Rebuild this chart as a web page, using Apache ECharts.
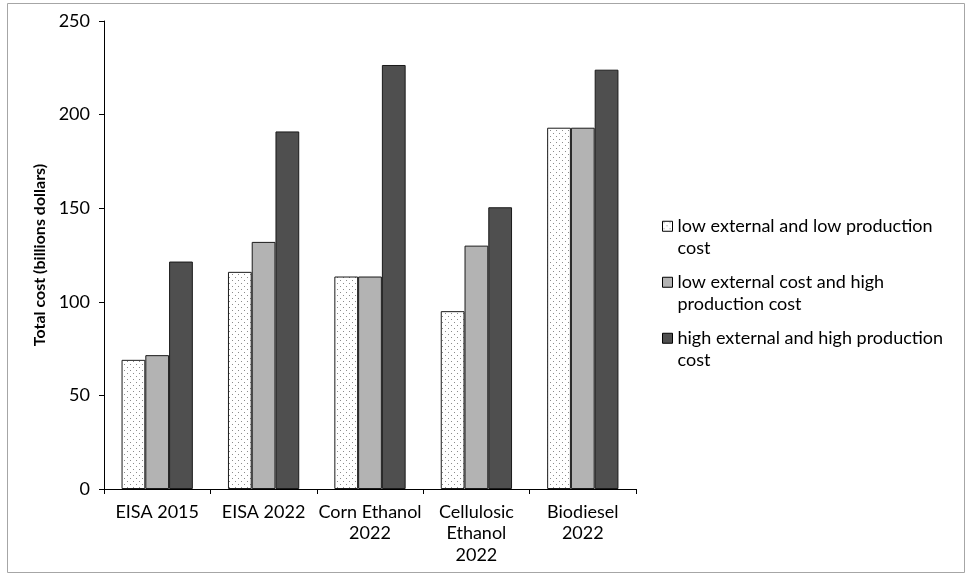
<!DOCTYPE html>
<html>
<head>
<meta charset="utf-8">
<script src="https://cdn.jsdelivr.net/npm/echarts@6/dist/echarts.min.js"></script>
<style>
html,body{margin:0;padding:0;background:#fff;}
#chart{width:970px;height:577px;}
</style>
</head>
<body>
<div id="chart"></div>
<script>
// ---- data ----
const categories = ['EISA 2015', 'EISA 2022', 'Corn Ethanol\n2022', 'Cellulosic\nEthanol\n2022', 'Biodiesel\n2022'];
const seriesNames = [
  'low external and low production\ncost',
  'low external cost and high\nproduction cost',
  'high external and high production\ncost'
];
const lowLow = [69, 116, 113.5, 95, 193];
const lowHigh = [71.5, 132, 113.5, 130, 193];
const highHigh = [121.5, 191, 226.5, 150.5, 224];
const yTicks = [0, 50, 100, 150, 200, 250];

// dotted pattern
function makePattern() {
  const c = document.createElement('canvas');
  c.width = 6; c.height = 6;
  const ctx = c.getContext('2d');
  ctx.fillStyle = '#ffffff';
  ctx.fillRect(0, 0, 6, 6);
  ctx.fillStyle = '#8c8c8c';
  ctx.fillRect(1, 1, 1, 1);
  ctx.fillRect(4, 4, 1, 1);
  return c;
}
const dotted = { image: makePattern(), repeat: 'repeat' };

const FONT = 'Lato';
const chart = echarts.init(document.getElementById('chart'), null, { renderer: 'canvas' });

function legendFor(idx, top) {
  return {
    show: true,
    left: 662,
    top: top,
    padding: 0,
    orient: 'vertical',
    itemWidth: 10,
    itemHeight: 10,
    itemGap: 0,
    icon: 'rect',
    selectedMode: false,
    data: [seriesNames[idx]],
    formatter: function (n) { return '\n' + n; },
    textStyle: { fontFamily: FONT, fontSize: 18, color: '#000', lineHeight: 21.5 },
    itemStyle: { borderColor: '#000', borderWidth: 1 }
  };
}

const barStyle = (color) => ({ color: color, borderColor: '#1a1a1a', borderWidth: 1 });

chart.setOption({
  animation: false,
  backgroundColor: '#fff',
  graphic: [{
    type: 'rect',
    shape: { x: 7.5, y: 3.5, width: 957, height: 569 },
    style: { fill: 'none', stroke: '#a6a6a6', lineWidth: 1 },
    silent: true
  }],
  legend: [legendFor(0, 194), legendFor(1, 250), legendFor(2, 306)],
  grid: { left: 104, right: 334, top: 21, bottom: 88, containLabel: false },
  xAxis: {
    type: 'category',
    data: categories,
    axisLine: { lineStyle: { color: '#000', width: 1 } },
    axisTick: { show: true, length: 5, inside: false, alignWithLabel: false, lineStyle: { color: '#000' } },
    axisLabel: { interval: 0, margin: 12, fontFamily: FONT, fontSize: 18, color: '#000', lineHeight: 21.5, align: 'center' }
  },
  yAxis: {
    type: 'value',
    min: yTicks[0],
    max: yTicks[yTicks.length - 1],
    interval: yTicks[1] - yTicks[0],
    name: 'Total cost (billions dollars)',
    nameLocation: 'middle',
    nameGap: 47,
    nameTextStyle: { fontFamily: FONT, fontSize: 16, fontWeight: 'bold', color: '#000' },
    axisLine: { show: true, lineStyle: { color: '#000', width: 1 } },
    axisTick: { show: true, length: 5, lineStyle: { color: '#000' } },
    splitLine: { show: false },
    axisLabel: { margin: 14, fontFamily: FONT, fontSize: 18, color: '#000' }
  },
  series: [
    { name: seriesNames[0], type: 'bar', data: lowLow, barGap: '0%', barCategoryGap: '33%', itemStyle: barStyle(dotted) },
    { name: seriesNames[1], type: 'bar', data: lowHigh, barGap: '0%', barCategoryGap: '33%', itemStyle: barStyle('#b3b3b3') },
    { name: seriesNames[2], type: 'bar', data: highHigh, barGap: '0%', barCategoryGap: '33%', itemStyle: barStyle('#4f4f4f') }
  ]
});
</script>
</body>
</html>
